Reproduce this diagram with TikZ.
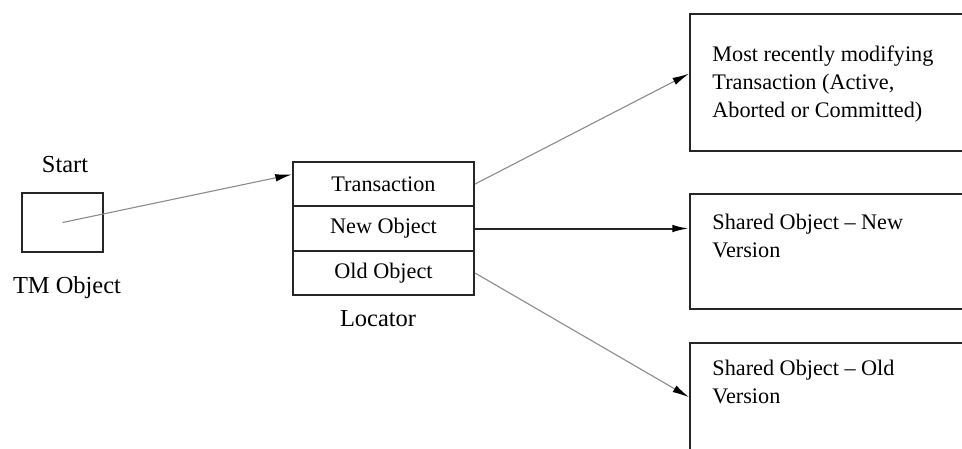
\documentclass[tikz,border=0pt]{standalone}
\usepackage{fontspec}
\setmainfont{Liberation Serif}
\usetikzlibrary{arrows.meta}
\usetikzlibrary{calc}
\tikzset{objbox/.style={draw=black!85, line width=0.9pt, minimum width=36.5pt, minimum height=26.5pt}}
\tikzset{cellbox/.style={draw=black!85, line width=0.9pt, minimum width=81.5pt, minimum height=20pt, font=\fontsize{10}{12}\selectfont}}
\tikzset{bigbox/.style={draw=black!85, line width=0.9pt, minimum width=140pt, anchor=north west}}
\tikzset{boxtext/.style={anchor=base west, align=left, inner sep=0pt, font=\fontsize{10}{12.6}\selectfont}}
\tikzset{caption/.style={font=\fontsize{11}{13}\selectfont}}
\tikzset{ptr/.style={-{Latex[length=7.5pt,width=3.4pt,color=black]}, draw=black!45, line width=0.5pt}}

\begin{document}
\begin{tikzpicture}[x=0.45pt, y=-0.45pt]

\clip (0,0) rectangle (962,448);

% TM object
\node[caption] (start) at (65, 165) {Start};
\node[objbox] (tmobj) at (62.5, 222.5) {};
\node[caption] (tmlabel) at (67, 288) {TM Object};

% locator
\node[cellbox] (loctr) at (383.5, 184) {Transaction};
\node[cellbox] (locnew) at (383.5, 228.5) {New Object};
\node[cellbox] (locold) at (383.5, 273) {Old Object};
\node[caption] (loclabel) at (378, 319) {Locator};

% targets (base anchor = last line)
\node[bigbox, minimum height=61.7pt] (recent) at (689, 13) {};
\node[boxtext] (recenttxt) at (712, 117) {Most recently modifying\\Transaction (Active,\\Aborted or Committed)};

\node[bigbox, minimum height=51.75pt] (newver) at (689, 193) {};
\node[boxtext] (newvertxt) at (712, 257) {Shared Object -- New\\Version};

\node[bigbox, minimum height=51.75pt] (oldver) at (689, 342) {};
\node[boxtext] (oldvertxt) at (712, 403) {Shared Object -- Old\\Version};

\draw[ptr] (tmobj.center) to (loctr.174);
\draw[ptr] (loctr.east) to ([yshift=4pt]recent.west);
\draw[ptr, draw=black!85, line width=0.9pt] (locnew.east) to (locnew.east -| newver.west);
\draw[ptr] (locold.east) to ([yshift=1.5pt]oldver.west);

\end{tikzpicture}
\end{document}
